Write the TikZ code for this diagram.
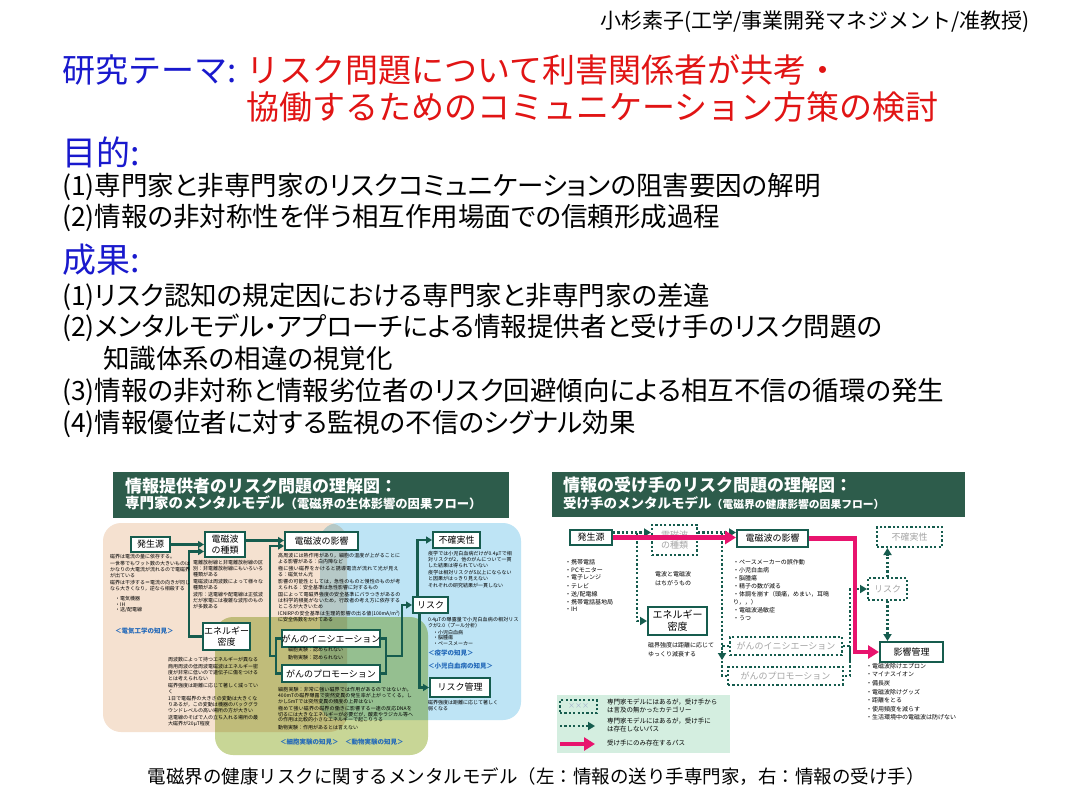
\documentclass[tikz,border=0pt]{standalone}
\usepackage{fontspec}
\setmainfont{Noto Sans CJK JP}
\newfontfamily\propjp[RawFeature=+palt]{Noto Sans CJK JP}
\usetikzlibrary{arrows.meta}
\XeTeXlinebreaklocale "ja"
\XeTeXlinebreakskip=0pt plus 1pt

\definecolor{themeblue}{RGB}{25,25,205}
\definecolor{themered}{RGB}{225,20,20}
\definecolor{hdgreen}{RGB}{45,92,75}
\definecolor{boxgreen}{RGB}{22,92,78}
\definecolor{pathpink}{RGB}{232,20,110}
\definecolor{knowblue}{RGB}{35,105,185}
\definecolor{peach}{RGB}{245,225,208}
\definecolor{skyblue}{RGB}{190,228,245}
\definecolor{olive}{RGB}{200,214,150}
\definecolor{legendmint}{RGB}{212,238,224}
\definecolor{ghostgray}{RGB}{165,165,165}
\definecolor{ghostblue}{RGB}{160,175,205}

\tikzset{
    title/.style={anchor=west, inner sep=0pt, font=\fontsize{33}{36}\selectfont},
    heading/.style={anchor=west, inner sep=0pt, text=themeblue, font=\fontsize{34}{36}\selectfont},
    item/.style={anchor=west, inner sep=0pt, font=\propjp\fontsize{26.5}{30}\selectfont},
    headtext/.style={anchor=west, inner sep=0pt, text=white, font=\bfseries},
    cbox/.style={draw=boxgreen, line width=2pt, fill=white, inner sep=0pt, align=center, font=\fontsize{9}{10.5}\selectfont},
    ghostbox/.style={cbox, fill=none, dash pattern=on 2.2pt off 2.2pt, text=ghostgray},
    flow/.style={draw=boxgreen, line width=2.2pt, -{Triangle[length=6pt,width=7pt]}},
    flowline/.style={draw=boxgreen, line width=2.2pt},
    dotflow/.style={draw=boxgreen, line width=2.2pt, dash pattern=on 2.2pt off 2.2pt, -{Triangle[length=7pt,width=8pt]}},
    dotline/.style={draw=boxgreen, line width=2.2pt, dash pattern=on 2.2pt off 2.2pt},
    pinkflow/.style={draw=pathpink, line width=4.5pt, -{Triangle[length=11pt,width=13pt]}},
    note/.style={anchor=north west, inner sep=0pt, align=left, font=\fontsize{5}{5.8}\selectfont},
    rnote/.style={anchor=north west, inner sep=0pt, align=left, font=\fontsize{6}{8.1}\selectfont},
    know/.style={anchor=north west, inner sep=0pt, text=knowblue, font=\fontsize{6.5}{8}\selectfont\bfseries},
}

\begin{document}
\begin{tikzpicture}[x=1pt, y=-1pt]
        \useasboundingbox (0,0) rectangle (1070,803);
        \fill[white] (0,0) rectangle (1070,803);

        \node[anchor=east, inner sep=0pt, font=\fontsize{21}{23}\selectfont] (author) at (1030,22) {小杉素子(工学/事業開発マネジメント/准教授)};
        \node[title, text=themeblue] (themelbl) at (62,70) {研究テーマ:};
        \node[title, text=themered] (theme1) at (246,70) {リスク問題について利害関係者が共考・};
        \node[title, text=themered] (theme2) at (246,107) {協働するためのコミュニケーション方策の検討};

        \node[heading] (aimlbl) at (62,152) {目的:};
        \node[item] (aim1) at (62,187) {(1)専門家と非専門家のリスクコミュニケーションの阻害要因の解明};
        \node[item] (aim2) at (62,218) {(2)情報の非対称性を伴う相互作用場面での信頼形成過程};
        \node[heading] (reslbl) at (62,260) {成果:};
        \node[item] (res1) at (62,297) {(1)リスク認知の規定因における専門家と非専門家の差違};
        \node[item] (res2) at (62,328) {(2)メンタルモデル・アプローチによる情報提供者と受け手のリスク問題の};
        \node[item] (res2b) at (103,358) {知識体系の相違の視覚化};
        \node[item] (res3) at (62,392) {(3)情報の非対称と情報劣位者のリスク回避傾向による相互不信の循環の発生};
        \node[item] (res4) at (62,424) {(4)情報優位者に対する監視の不信のシグナル効果};

        \node[anchor=center, inner sep=0pt, font=\fontsize{18.5}{20}\selectfont] (caption) at (536,777) {電磁界の健康リスクに関するメンタルモデル（左：情報の送り手専門家，右：情報の受け手）};

        % expert model
        \fill[hdgreen] (113,472) rectangle (509,518);
        \node[headtext, font=\fontsize{17}{19}\selectfont\bfseries] (lhead1) at (125,486) {情報提供者のリスク問題の理解図：};
        \node[headtext] (lhead2) at (125,503) {{\fontsize{14.5}{16}\selectfont 専門家のメンタルモデル}{\fontsize{12.3}{14}\selectfont （電磁界の生体影響の因果フロー）}};

        \begin{scope}[blend mode=multiply]
                \fill[peach, rounded corners=18pt] (103,523) rectangle (347,732);
                \fill[skyblue, rounded corners=18pt] (320,523) rectangle (521,720);
                \fill[olive, rounded corners=18pt] (215,617) rectangle (428,755);
        \end{scope}

        \node[cbox, minimum width=39, minimum height=15] (lsrc) at (150.5,544.5) {発生源};
        \node[cbox, minimum width=40, minimum height=25] (ltype) at (225,544.5) {電磁波\\の種類};
        \node[cbox, minimum width=73, minimum height=18] (leff) at (321.5,541) {電磁波の影響};
        \node[cbox, minimum width=47, minimum height=16] (lunc) at (456.5,540) {不確実性};
        \node[cbox, minimum width=35, minimum height=16] (lrisk) at (430.5,605) {リスク};
        \node[cbox, minimum width=60, minimum height=19] (lmgmt) at (460,687.5) {リスク管理};
        \node[cbox, minimum width=47, minimum height=27] (lene) at (226.5,636.5) {エネルギー\\密度};
        \node[cbox, minimum width=98, minimum height=17] (lini) at (331,638.5) {がんのイニシエーション};
        \node[cbox, minimum width=98, minimum height=17] (lpro) at (331,673.5) {がんのプロモーション};

        \draw[flow] (lsrc.east) -- (lsrc.east -| ltype.west);
        \draw[flow] ([yshift=4pt]ltype.east) -- ([yshift=4pt]ltype.east -| leff.west);
        \draw[flow] (lene.west) -- ++(-13,0) |- ([yshift=-7pt]ltype.west);
        \coordinate (lgl) at (276,656);
        \coordinate (lgr) at (386,656);
        \draw[flowline] (lini.west) -| (lgl) |- (lpro.west);
        \draw[flowline] (lini.east) -| (lgr) |- (lpro.east);
        \draw[flow] (lgl) -- ++(-6,0) |- ([yshift=-5pt]leff.west);
        \draw[flow] (lgr) -- ++(16,0) |- (lrisk.west);
        \draw[flow] ([xshift=-13pt]lrisk.north) |- (lunc.west);
        \draw[flow] ([xshift=-11pt]lrisk.south) |- (lmgmt.west);

        \node[note, text width=80] (lsrcnote) at (110,554) {磁界は電流の量に依存する。\par\vspace{1.5pt}一世帯でもワット数の大きいものはかなりの大電流が流れるので電磁界が出ている\par\vspace{1.5pt}磁界は干渉する＝電流の向きが同じなら大きくなり，逆なら相殺する\par\vspace{4pt}\hspace{5pt}・電気機器\\\hspace{5pt}・IH\\\hspace{5pt}・送/配電線};
        \node[know] (lsrcknow) at (115,628) {＜電気工学の知見＞};
        \node[note, text width=70] (ltypenote) at (193,560) {電離放射線と非電離放射線の区別：非電離放射線にもいろいろ種類がある\par\vspace{1.5pt}電磁波は周波数によって様々な種類がある\par\vspace{1.5pt}波形：送電線や配電線は正弦波だが家電には複雑な波形のものが多数ある};
        \node[note, text width=123] (leffnote) at (278,553) {高周波には熱作用があり，細胞の温度が上がることによる影響がある：白内障など\par\vspace{1.5pt}極に強い磁界をかけると誘導電流が流れて光が見える：磁気せん光\par\vspace{1.5pt}影響の可能性としては，急性のものと慢性のものが考えられる：安全基準は急性影響に対するもの\par\vspace{1.5pt}国によって電磁界強度の安全基準にバラつきがあるのは科学的根拠がないため，行政者の考え方に依存するところが大きいため\par\vspace{1.5pt}ICNIRPの安全基準は生理的影響の出る値(100mA/m²)に安全係数をかけてある};
        \node[note, text width=84] (luncnote) at (428,551) {疫学では小児白血病だけが0.4μTで相対リスクが2，他のがんについて一貫した結果は得られていない\par\vspace{1.5pt}疫学は相対リスクが5以上にならないと因果がはっきり見えない\par\vspace{1.5pt}それぞれの研究結果が一貫しない};
        \node[note, text width=92] (lrisknote) at (428,617) {0.4μTの曝露量で小児白血病の相対リスクが2.0（プール分析）\par\vspace{1pt}\hspace{5pt}・小児白血病\\\hspace{5pt}・脳腫瘍\\\hspace{5pt}・ペースメーカー};
        \node[know] (lriskknow) at (428,650) {＜疫学の知見＞};
        \node[know] (lriskknow2) at (428,663) {＜小児白血病の知見＞};
        \node[note, text width=70] (lmgmtnote) at (428,700) {磁界強度は距離に応じて著しく弱くなる};
        \node[note, font=\fontsize{5}{8.5}\selectfont] (lininote) at (288,647) {細胞実験：認められない\\動物実験：認められない};
        \node[note, text width=135] (lpronote) at (278,687) {細胞実験：非常に強い磁界では作用があるのではないか。400mTの磁界曝露で突然変異の発生率が上がってくる。しかし5mTでは突然変異の頻度の上昇はない\par\vspace{1.5pt}極めて強い磁界の磁界の働きに影響する一連の反応DNAを切るには大きなエネルギーが必要だが，酸素やラジカル等への作用は比較的小さなエネルギーで起こりうる\par\vspace{1.5pt}動物実験：作用があるとは言えない};
        \node[know] (lproknow) at (280,739) {＜細胞実験の知見＞　＜動物実験の知見＞};
        \node[note, text width=90] (lenenote) at (168,657) {周波数によって持つエネルギーが異なる\par\vspace{1.5pt}商用周波の低周波電磁波はエネルギー密度が非常に低いので遺伝子に傷をつけるとは考えられない\par\vspace{1.5pt}磁界強度は距離に応じて著しく減っていく\par\vspace{1.5pt}1日で電磁界の大きさの変動は大きくなりあるが，この変動は機器のバックグラウンドレベルの高い場所の方が大きい\par\vspace{1.5pt}送電線のそばで人の立ち入れる場所の最大磁界が20μT程度};

        % receiver model
        \fill[hdgreen] (552,472) rectangle (965,517);
        \node[headtext, font=\fontsize{17}{19}\selectfont\bfseries] (rhead1) at (563,485) {情報の受け手のリスク問題の理解図：};
        \node[headtext] (rhead2) at (563,503) {{\fontsize{13.5}{16}\selectfont 受け手のメンタルモデル}{\fontsize{10.8}{14}\selectfont （電磁界の健康影響の因果フロー）}};

        \node[cbox, minimum width=42, minimum height=15] (rsrc) at (591,537.5) {発生源};
        \node[ghostbox, minimum width=45, minimum height=30] (rtype) at (674.5,540) {電磁波\\の種類};
        \node[cbox, minimum width=71, minimum height=17] (reff) at (772.5,538.5) {電磁波の影響};
        \node[ghostbox, minimum width=65, minimum height=20] (runc) at (909.5,537) {不確実性};
        \node[ghostbox, minimum width=39, minimum height=22] (rrisk) at (887.5,589) {リスク};
        \node[cbox, minimum width=59, minimum height=28, font=\fontsize{10}{12}\selectfont] (rene) at (677.5,621) {エネルギー\\密度};
        \node[ghostbox, minimum width=112, minimum height=18] (rini) at (786,646) {がんのイニシエーション};
        \node[ghostbox, minimum width=115, minimum height=18] (rpro) at (785.5,676) {がんのプロモーション};
        \node[cbox, minimum width=63, minimum height=20] (rmgmt) at (911.5,652) {影響管理};

        \coordinate (rsrcout) at ([yshift=5pt]rsrc.east);
        \coordinate (rsplit) at (637,532.5);
        \coordinate (rsplit2) at (722,532.5);
        \coordinate (rgin) at (722,660);
        \coordinate (rgout) at (850,661);
        \draw[dotflow] (rsrcout) -- (rsrcout -| rtype.west);
        \draw[dotflow] (rtype.east |- rsrcout) -- (rsrcout -| reff.west);
        \draw[dotflow] (rsplit) |- (rene.west);
        \draw[dotline] (rini.west) -| (rgin) |- (rpro.west);
        \draw[dotflow] (rsplit2) -- (rgin);
        \draw[dotline] (rini.east) -| (rgout) |- (rpro.east);
        \draw[dotflow] (rgout) |- (rrisk.west);
        \draw[dotflow] (rrisk.north) -- (rrisk.north |- runc.south);
        \draw[dotflow] (rrisk.south) -- (rrisk.south |- rmgmt.north);
        \draw[pinkflow] (rsrc.east) -- (rsrc.east -| reff.west);
        \draw[pinkflow] (reff.east) -- ++(46,0) |- (rmgmt.west);

        \foreach \t [count=\i] in {携帯電話, PCモニター, 電子レンジ, テレビ, 送/配電線, 携帯電話基地局, IH}
                \node[rnote] (rsrcitem\i) at (565,551+8*\i) {・\t};
        \node[rnote, font=\fontsize{6}{9.5}\selectfont] (rtypenote) at (655,571) {電波と電磁波\\はちがうもの};
        \node[rnote] (reffnote) at (733,559) {・ペースメーカーの誤作動\\・小児白血病\\・脳腫瘍\\・精子の数が減る\\・体調を崩す（頭痛，めまい，耳鳴\\り，，）\\・電磁波過敏症\\・うつ};
        \node[rnote, font=\fontsize{6}{9}\selectfont] (renenote) at (648,642.5) {磁界強度は距離に応じて\\ゆっくり減衰する};
        \foreach \t [count=\i] in {電磁波除けエプロン, マイナスイオン, 備長炭, 電磁波除けグッズ, 距離をとる, 使用頻度を減らす, 生活環境中の電磁波は防げない}
                \node[rnote] (rmgmtitem\i) at (866,655+8.5*\i) {・\t};

        \fill[legendmint] (557,695) rectangle (730,753);
        \node[ghostbox, minimum width=37, minimum height=13, text=ghostblue, font=\fontsize{7}{8}\selectfont] (lgdbox) at (578.5,706.5) {×××};
        \node[rnote, font=\fontsize{6.5}{8}\selectfont] (lgdtxt1) at (607,699) {専門家モデルにはあるが，受け手から\\は言及の無かったカテゴリー};
        \coordinate (lgdd0) at (560,726);
        \coordinate (lgdd1) at (595,726);
        \draw[dotflow] (lgdd0) -- (lgdd1);
        \node[rnote, font=\fontsize{6.5}{8}\selectfont] (lgdtxt2) at (607,718) {専門家モデルにはあるが，受け手に\\は存在しないパス};
        \coordinate (lgdp0) at (560,744);
        \coordinate (lgdp1) at (595,744);
        \draw[pinkflow] (lgdp0) -- (lgdp1);
        \node[rnote, font=\fontsize{6.5}{8}\selectfont] (lgdtxt3) at (607,740) {受け手にのみ存在するパス};
\end{tikzpicture}
\end{document}
